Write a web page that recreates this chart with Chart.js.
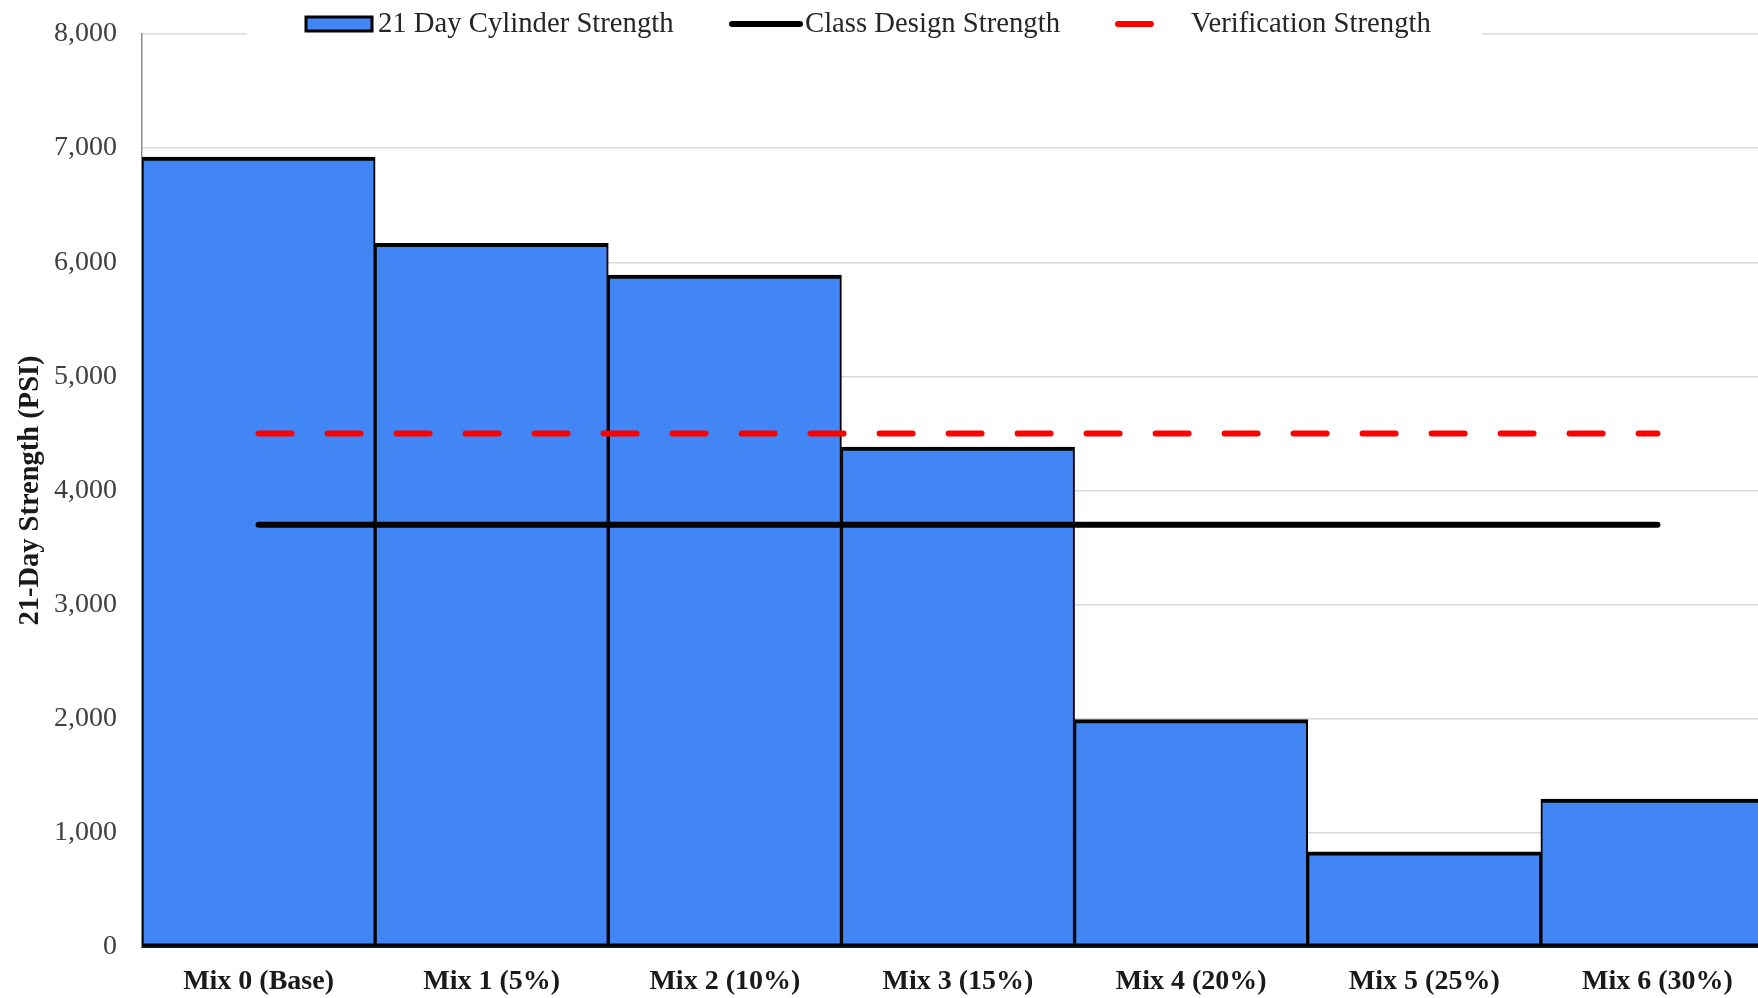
<!DOCTYPE html>
<html>
<head>
<meta charset="utf-8">
<script src="https://cdn.jsdelivr.net/npm/chart.js@4.4.0/dist/chart.umd.min.js"></script>
<style>
html,body{margin:0;padding:0;background:#fff;overflow:hidden;width:1758px;height:998px;}
#wrap{position:absolute;left:0;top:0;width:1800px;height:998px;}
</style>
</head>
<body>
<div id="wrap"><canvas id="c" width="1800" height="998"></canvas></div>
<script>
const categories = ["Mix 0 (Base)", "Mix 1 (5%)", "Mix 2 (10%)", "Mix 3 (15%)", "Mix 4 (20%)", "Mix 5 (25%)", "Mix 6 (30%)"];
const cylinderStrength = [6922, 6166, 5888, 4381, 1993, 834, 1296];
const classDesignStrength = [3700, 3700, 3700, 3700, 3700, 3700, 3700];
const verificationStrength = [4500, 4500, 4500, 4500, 4500, 4500, 4500];
const yTicks = [0, 1000, 2000, 3000, 4000, 5000, 6000, 7000, 8000];
const seriesNames = ["21 Day Cylinder Strength", "Class Design Strength", "Verification Strength"];
const yTitle = "21-Day Strength (PSI)";

const FONT = "'Liberation Serif', 'Times New Roman', serif";
const BLUE = '#4285f4';

const legendPlugin = {
  id: 'customLegend',
  afterDraw(chart) {
    const ctx = chart.ctx;
    ctx.save();
    ctx.fillStyle = '#ffffff';
    ctx.fillRect(247, 2, 1235, 40);
    const cy = 24;
    ctx.font = '28.7px ' + FONT;
    ctx.textBaseline = 'middle';
    ctx.textAlign = 'left';
    // item 1: bar box
    ctx.fillStyle = BLUE;
    ctx.fillRect(306, 17, 66, 14);
    ctx.lineWidth = 3;
    ctx.strokeStyle = '#000';
    ctx.strokeRect(306, 17, 66, 14);
    ctx.fillStyle = '#262626';
    ctx.fillText(seriesNames[0], 378, cy);
    // item 2: black line
    ctx.lineCap = 'round';
    ctx.lineWidth = 6;
    ctx.strokeStyle = '#000';
    ctx.beginPath(); ctx.moveTo(732, cy); ctx.lineTo(800, cy); ctx.stroke();
    ctx.fillText(seriesNames[1], 805, cy);
    // item 3: red dash
    ctx.strokeStyle = '#ff0000';
    ctx.beginPath(); ctx.moveTo(1118, cy); ctx.lineTo(1151, cy); ctx.stroke();
    ctx.fillText(seriesNames[2], 1191, cy);
    ctx.restore();
  }
};

new Chart(document.getElementById('c'), {
  data: {
    labels: categories,
    datasets: [
      {
        type: 'line',
        label: seriesNames[2],
        data: verificationStrength,
        borderColor: '#ff0000',
        borderWidth: 6,
        borderDash: [33, 36],
        borderCapStyle: 'round',
        pointRadius: 0,
        fill: false,
        order: 1
      },
      {
        type: 'line',
        label: seriesNames[1],
        data: classDesignStrength,
        borderColor: '#000000',
        borderWidth: 6,
        borderCapStyle: 'round',
        pointRadius: 0,
        fill: false,
        order: 2
      },
      {
        type: 'bar',
        label: seriesNames[0],
        data: cylinderStrength,
        backgroundColor: BLUE,
        borderColor: '#000000',
        borderWidth: {top: 4, left: 2, right: 2, bottom: 3},
        borderSkipped: false,
        categoryPercentage: 1.0,
        barPercentage: 1.0,
        order: 3
      }
    ]
  },
  options: {
    responsive: false,
    animation: false,
    devicePixelRatio: 1,
    layout: {padding: {top: 34, right: 26, left: 0, bottom: 0}},
    plugins: {
      legend: {display: false},
      tooltip: {enabled: false}
    },
    scales: {
      x: {
        type: 'category',
        grid: {display: false, drawTicks: false},
        border: {display: true, color: '#0b1a33', width: 2},
        ticks: {
          font: {family: FONT, size: 28, weight: 'bold'},
          color: '#1a1a1a',
          padding: 18,
          maxRotation: 0,
          autoSkip: false
        },
        afterFit(s) { s.height = 51; s.paddingLeft = 0; s.paddingRight = 0; }
      },
      y: {
        min: 0,
        max: 8000,
        afterBuildTicks(s) { s.ticks = yTicks.map(v => ({value: v})); },
        grid: {color: '#d9d9d9', lineWidth: 1.5, drawTicks: false},
        border: {display: true, color: '#8c8c8c', width: 1.5},
        ticks: {
          font: {family: FONT, size: 28},
          color: '#404040',
          padding: 25,
          callback: v => v.toLocaleString('en-US')
        },
        title: {
          display: true,
          text: yTitle,
          font: {family: FONT, size: 28.5, weight: 'bold'},
          color: '#1a1a1a',
          padding: {top: 14, bottom: 0}
        },
        afterFit(s) { s.width = 142; s.paddingTop = 0; s.paddingBottom = 0; }
      }
    }
  },
  plugins: [legendPlugin]
});
</script>
</body>
</html>
